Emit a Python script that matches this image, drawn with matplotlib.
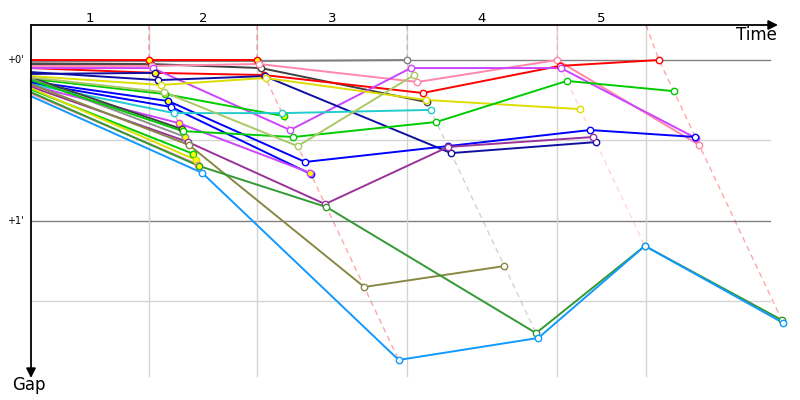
import matplotlib
matplotlib.use("Agg")
import matplotlib.pyplot as plt

# time axis in seconds, gap axis in seconds
lap_ticks = [93.1, 178.4, 296.8, 415.2, 485.4]
lap_lead = [0.0, 93.1, 178.4, 296.8, 415.2, 495.7]
lap_names = ["1", "2", "3", "4", "5"]

riders = [
    "gray", "black", "red_a", "pink", "red_b", "violet_a", "navy", "navy_b",
    "yellow", "green_a", "blue_b", "blue_c", "cyan", "violet_b", "black_b",
    "gray_b", "green_b", "lime", "purple", "olive", "green_c", "yellow_b",
    "pink_b", "forest", "sky",
]
colors = [
    "#808080", "#404040", "#ff0000", "#ff88aa", "#ff0000", "#cc44ff",
    "#1010a0", "#1010a0", "#dddd00", "#00cc00", "#0000ff", "#0000ff",
    "#22cccc", "#cc44ff", "#404040", "#909090", "#00cc00", "#aac866",
    "#993399", "#888844", "#00cc00", "#dddd00", "#ff88aa", "#339933",
    "#1199ff",
]

# gap (s) at start, then at each lap crossing
gaps = [
    [0.7, 0.4, 0.4, 0.0],
    [1.5, 1.5, 3.0, 15.7],
    [0.0, 0.0, 0.0],
    [2.2, 2.2, 1.5, 8.2, 0.0, 31.7],
    [3.0, 4.8, 5.6, 12.3, 2.2, 0.0],
    [3.0, 3.0, 26.1, 3.0, 3.0, 29.1],
    [4.5, 7.5, 6.0, 34.7, 30.6],
    [5.2, 4.8],
    [6.0, 9.3, 6.7, 14.9, 18.3],
    [7.0, 12.7, 20.9],
    [8.0, 15.3, 38.0, 32.1, 26.1, 28.7],
    [8.5, 17.5, 42.5],
    [9.0, 19.8, 19.8, 18.6],
    [9.5, 23.5, 42.1],
    [6.5, 25.7],
    [7.0, 28.7],
    [7.5, 26.5, 28.7, 23.1, 7.8, 11.6],
    [6.5, 12.0, 32.1, 5.6],
    [10.0, 30.5, 53.7, 32.4, 28.7],
    [9.0, 31.7, 84.6, 76.8],
    [11.0, 35.0],
    [10.5, 37.3],
    [12.5, 39.0],
    [12.0, 39.5, 54.8, 101.8, 69.3, 96.9],
    [13.5, 42.1, 111.8, 103.6, 69.3, 98.0],
]

# crossings drawn with a yellow fill
yellow_marks = [("red_a", 1), ("red_a", 2), ("navy_b", 1), ("green_a", 1),
                ("green_a", 2), ("blue_b", 1), ("violet_b", 1), ("violet_b", 2),
                ("black_b", 1), ("gray_b", 1), ("green_c", 1), ("yellow_b", 1),
                ("forest", 1)]

PX_X = 1.267   # pixels per second along time
PX_Y = 2.683   # pixels per second along gap
X0, Y0 = 31, 60


def xy(r, lap):
    g = gaps[r][lap]
    t = 0.0 if lap == 0 else lap_lead[lap] + g
    return t, g


fig = plt.figure(figsize=(8, 4), dpi=100)
ax = fig.add_axes([0, 0, 1, 1])
ax.set_xlim(-X0 / PX_X, (800 - X0) / PX_X)
ax.set_ylim((400 - Y0) / PX_Y, -Y0 / PX_Y)
ax.axis("off")

top = (25 - Y0) / PX_Y
bottom = (376 - Y0) / PX_Y
right = (770 - X0) / PX_X

# grid
for g, c in [(0, "#808080"), (30, "#d4d4d4"), (60, "#808080"), (90, "#d4d4d4")]:
    ax.plot([0, right], [g, g], color=c, lw=1, zorder=1)
for t in lap_ticks:
    ax.plot([t, t], [top, bottom], color="#d4d4d4", lw=1, zorder=1)

# lap lines, through every crossing of that lap
for k in range(1, len(lap_lead)):
    on_lap = [r for r in range(len(riders)) if len(gaps[r]) > k]
    on_lap.sort(key=lambda r: gaps[r][k])
    pts = [xy(r, k) for r in on_lap]
    xs = [lap_ticks[k - 1]] + [p[0] for p in pts]
    ys = [top] + [p[1] for p in pts]
    ax.plot(xs, ys, color=colors[on_lap[0]], alpha=0.35, lw=1,
            ls=(0, (4, 3)), zorder=2)

# riders
for r, name in enumerate(riders):
    c = colors[r]
    pts = [xy(r, k) for k in range(len(gaps[r]))]
    ax.plot([p[0] for p in pts], [p[1] for p in pts], color=c, lw=1.4, zorder=3,
            solid_joinstyle="round")
    for k in range(1, len(pts)):
        face = "#ffff00" if (name, k) in yellow_marks else "white"
        ax.plot(*pts[k], marker="o", ms=4.6, mfc=face, mec=c, mew=1, zorder=4)

# axes
ax.annotate("", xy=((778 - X0) / PX_X, top), xytext=(0, top),
            arrowprops=dict(arrowstyle="-|>", color="black", lw=1.3,
                            mutation_scale=14, shrinkA=0, shrinkB=0))
ax.annotate("", xy=(0, (378 - Y0) / PX_Y), xytext=(0, top),
            arrowprops=dict(arrowstyle="-|>", color="black", lw=1.3,
                            mutation_scale=14, shrinkA=0, shrinkB=0))

edges = [0.0] + lap_ticks
for i, name in enumerate(lap_names):
    ax.text((edges[i] + edges[i + 1]) / 2, (18 - Y0) / PX_Y, name,
            ha="center", va="center", fontsize=9.5)
ax.text((777 - X0) / PX_X, (35 - Y0) / PX_Y, "Time", ha="right", va="center", fontsize=12)
ax.text((12 - X0) / PX_X, (385 - Y0) / PX_Y, "Gap", ha="left", va="center", fontsize=12)
ax.text(-6, 0, "+0'", ha="right", va="center", fontsize=7)
ax.text(-6, 60, "+1'", ha="right", va="center", fontsize=7)

fig.savefig("out.png", dpi=100)
